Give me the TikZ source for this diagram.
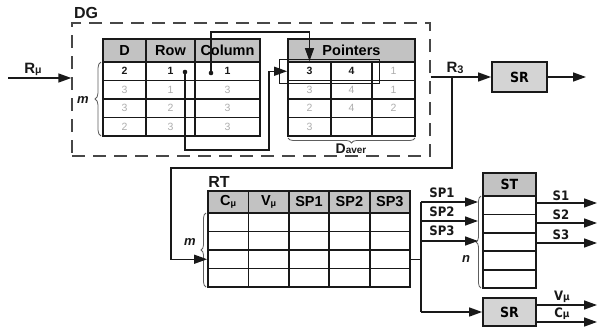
\documentclass[tikz,border=0pt]{standalone}
\usepackage{fontspec}
\setmainfont{Liberation Sans}
\newfontfamily\tah[FakeStretch=0.9]{DejaVu Sans}
\usetikzlibrary{arrows.meta,decorations.pathreplacing}
\definecolor{hdr}{gray}{0.76}
\definecolor{srf}{gray}{0.83}
\definecolor{lgt}{gray}{0.68}
\definecolor{ink}{gray}{0.1}
\tikzset{
 cell/.style={draw=ink, line width=1.8pt, inner sep=0pt, anchor=center},
 hcell/.style={cell, fill=hdr, font=\fontsize{14.5}{14.5}\selectfont\bfseries},
 val/.style={font=\fontsize{10.5}{10.5}\selectfont\bfseries, text=ink},
 gval/.style={font=\fontsize{10.5}{10.5}\selectfont, text=lgt},
 conn/.style={draw=ink, line width=1.5pt},
 arr/.style={conn, -{Triangle[length=13pt,width=9pt]}},
 brc/.style={decorate, decoration={brace, amplitude=6pt}, draw=ink!70, line width=0.8pt},
 lbl/.style={font=\tah\fontsize{13}{13}\selectfont\bfseries, inner sep=1pt, text=ink},
 big/.style={font=\fontsize{16}{16}\selectfont\bfseries, inner sep=0pt, text=ink},
 ital/.style={font=\fontsize{13}{13}\selectfont\bfseries\itshape, inner sep=0pt, text=ink},
 boxsr/.style={draw=ink, line width=1.8pt, fill=srf, inner sep=0pt, font=\tah\fontsize{14}{14}\selectfont\bfseries},
}
\begin{document}
\begin{tikzpicture}[x=1pt,y=-1pt]
\useasboundingbox (0,0) rectangle (600,332);
% ---------- DG block ----------
\node[draw=ink!80, line width=1.4pt, dash pattern=on 13pt off 8pt, minimum width=358, minimum height=133, inner sep=0pt] (dgbox) at (251,89.5) {};
\node[big] (dglbl) at (86,13) {DG};
% table 1
\node[hcell, minimum width=43, minimum height=23] (dgH1) at (124.5,50.5) {D};
\node[hcell, minimum width=49, minimum height=23] (dgH2) at (170.5,50.5) {Row};
\node[hcell, minimum width=65, minimum height=23] (dgH3) at (227.5,50.5) {Column};
\node[cell, val, minimum width=43, minimum height=18.5] (dg11) at (124.5,71.25) {2};
\node[cell, val, minimum width=49, minimum height=18.5] (dg12) at (170.5,71.25) {1};
\node[cell, val, minimum width=65, minimum height=18.5] (dg13) at (227.5,71.25) {1};
\foreach \r/\y/\a/\b/\c in {2/89.75/3/1/3, 3/108.25/3/2/3, 4/126.75/2/3/3}{
 \node[cell, gval, minimum width=43, minimum height=18.5] (dg\r1) at (124.5,\y) {\a};
 \node[cell, gval, minimum width=49, minimum height=18.5] (dg\r2) at (170.5,\y) {\b};
 \node[cell, gval, minimum width=65, minimum height=18.5] (dg\r3) at (227.5,\y) {\c};
}
\draw[brc] (101,136) -- (101,62);
\node[ital] (m1) at (83,100) {m};
% pointers table
\node[hcell, minimum width=127, minimum height=23] (ptrH) at (351.5,50.5) {Pointers};
\node[cell, val, minimum width=43, minimum height=18.5] (ptr11) at (309.5,71.25) {3};
\node[cell, val, minimum width=41, minimum height=18.5] (ptr12) at (351.5,71.25) {4};
\node[cell, gval, minimum width=43, minimum height=18.5] (ptr13) at (393.5,71.25) {1};
\foreach \r/\y/\a/\b/\c in {2/89.75/3/4/1, 3/108.25/2/4/2, 4/126.75/3//}{
 \node[cell, gval, minimum width=43, minimum height=18.5] (ptr\r1) at (309.5,\y) {\a};
 \node[cell, gval, minimum width=41, minimum height=18.5] (ptr\r2) at (351.5,\y) {\b};
 \node[cell, gval, minimum width=43, minimum height=18.5] (ptr\r3) at (393.5,\y) {\c};
}
\node[draw=ink, line width=1pt, minimum width=100, minimum height=24, inner sep=0pt] (hl) at (329,71) {};
\draw[brc, decoration={brace, amplitude=5pt}] (415,138) -- (288,138);
\node[inner sep=0pt, text=ink] (daver) at (351,149) {{\fontsize{14}{14}\selectfont\bfseries D}{\fontsize{10}{10}\selectfont\bfseries aver}};
% connectors inside DG
\coordinate (dotA) at (185,72);
\coordinate (bendA) at (269,150);
\fill[ink] (dotA) circle (2.3);
\draw[arr] (dotA) |- (bendA) |- (ptr11.west);
\coordinate (dotB) at (211,73);
\coordinate (topB) at (211,32);
\fill[ink] (dotB) circle (2.3);
\draw[arr] (dotB) -- (topB) -| (ptr11.north);
% input
\coordinate (rin) at (8,78);
\draw[arr] (rin) -- (dgbox.west |- rin);
\node[inner sep=0pt, text=ink] (rmu) at (33,69) {{\fontsize{15}{15}\selectfont\bfseries R}{\fontsize{10.5}{10.5}\selectfont\bfseries μ}};
% SR top
\node[boxsr, minimum width=55, minimum height=30] (sr1) at (519.5,77) {SR};
\draw[arr] (dgbox.east |- sr1.west) -- (sr1.west);
\node[inner sep=0pt, text=ink] (r3) at (455,68) {{\fontsize{15}{15}\selectfont\bfseries R}{\fontsize{11}{11}\selectfont\bfseries\raisebox{-1pt}{3}}};
\coordinate (o1) at (586,77);
\draw[arr] (sr1.east) -- (o1);
% ---------- RT block ----------
\node[big] (rtlbl) at (219,182) {RT};
\foreach \c/\x/\t in {1/228.2/{C{\fontsize{9}{9}\selectfont\raisebox{-1pt}{μ}}}, 2/268.6/{V{\fontsize{9}{9}\selectfont\raisebox{-1pt}{μ}}}, 3/309/SP1, 4/349.4/SP2, 5/389.8/SP3}{
 \node[hcell, minimum width=40.4, minimum height=22] (rtH\c) at (\x,202) {\t};
 \foreach \r/\y in {1/222.25, 2/240.75, 3/259.25, 4/277.75}{
  \node[cell, minimum width=40.4, minimum height=18.5] (rt\r\c) at (\x,\y) {};
 }
}
\draw[brc, decoration={brace, amplitude=5pt}] (206,287) -- (206,213);
\node[ital] (m2) at (190,242) {m};
% feedback from R3
\coordinate (j1) at (452,77);
\coordinate (j2) at (171,168);
\draw[arr] (j1) |- (j2) |- (rt31.west);
% ---------- ST block ----------
\node[cell, fill=hdr, font=\tah\fontsize{14}{14}\selectfont\bfseries, minimum width=53, minimum height=23] (stH) at (509.5,184.5) {ST};
\foreach \r/\y in {1/205.2, 2/223.6, 3/242, 4/260.4, 5/278.8}{
 \node[cell, minimum width=53, minimum height=18.4] (st\r) at (509.5,\y) {};
}
\draw[brc, decoration={brace, amplitude=5pt}] (481,288) -- (481,196);
\node[ital] (n1) at (466,259) {n};
% distribution
\coordinate (k) at (421,259.25);
\coordinate (ktop) at (421,202);
\coordinate (kbot) at (421,312);
\coordinate (stin) at (478,0);
\draw[conn] (rt35.east) -- (k);
\draw[conn] (ktop) -- (kbot);
\coordinate (sp2y) at (421,221);
\coordinate (sp3y) at (421,241);
\draw[arr] (ktop) -- (ktop -| stin);
\draw[arr] (sp2y) -- (sp2y -| stin);
\draw[arr] (sp3y) -- (sp3y -| stin);
\node[lbl] (lsp1) at (442,193) {SP1};
\node[lbl] (lsp2) at (442,212) {SP2};
\node[lbl] (lsp3) at (442,231) {SP3};
\node[boxsr, minimum width=53, minimum height=28] (sr2) at (509.5,312) {SR};
\draw[arr] (kbot) -- (sr2.west);
% outputs
\coordinate (outx) at (597,0);
\coordinate (y1) at (536,203);
\coordinate (y2) at (536,223);
\coordinate (y3) at (536,243);
\draw[arr] (y1) -- (y1 -| outx);
\draw[arr] (y2) -- (y2 -| outx);
\draw[arr] (y3) -- (y3 -| outx);
\node[lbl] (ls1) at (561,196) {S1};
\node[lbl] (ls2) at (561,215) {S2};
\node[lbl] (ls3) at (561,235) {S3};
\coordinate (v1) at (536,305);
\coordinate (v2) at (536,322);
\draw[arr] (v1) -- (v1 -| outx);
\draw[arr] (v2) -- (v2 -| outx);
\node[lbl] (lv) at (562,297) {V{\fontsize{10}{10}\selectfont μ}};
\node[lbl] (lc) at (562,314) {C{\fontsize{10}{10}\selectfont μ}};
\end{tikzpicture}
\end{document}
